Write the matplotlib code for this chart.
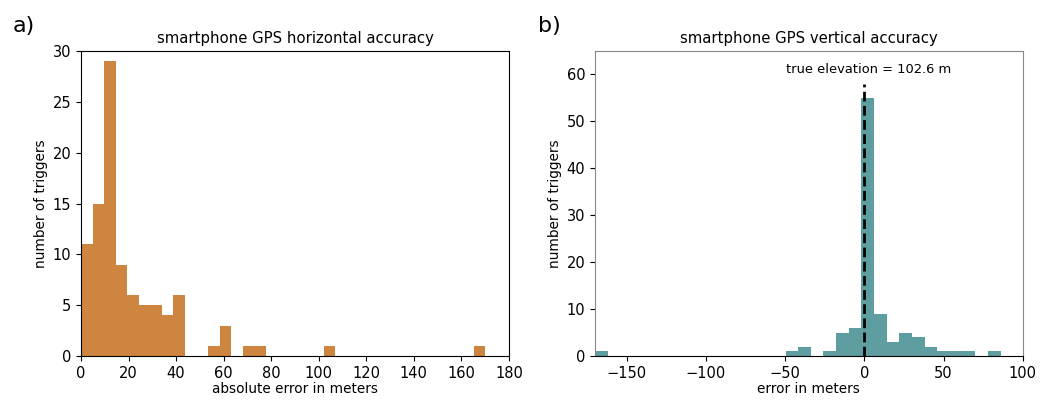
import numpy as np
import matplotlib
matplotlib.use('Agg')
import matplotlib.pyplot as plt

# horizontal error histogram: 35 bins from 0 to 170 m
h_edges_range = (0, 170)
h_counts = [11, 15, 29, 9, 6, 5, 5, 4, 6, 0, 0, 1, 3, 0, 1, 1, 0, 0,
            0, 0, 0, 1, 0, 0, 0, 0, 0, 0, 0, 0, 0, 0, 0, 0, 1]

# vertical error histogram: 32 bins from -169.5 to 86 m
v_edges_range = (-169.5, 86.0)
v_counts = [1, 0, 0, 0, 0, 0, 0, 0, 0, 0, 0, 0, 0, 0, 0, 1, 2, 0, 1, 5,
            6, 55, 9, 3, 5, 4, 2, 1, 1, 1, 0, 1]

true_elev = 102.6

h_edges = np.linspace(*h_edges_range, len(h_counts) + 1)
v_edges = np.linspace(*v_edges_range, len(v_counts) + 1)

fig = plt.figure(figsize=(10.49, 4.03), dpi=100)
ax1 = fig.add_axes([0.0772, 0.1166, 0.408, 0.7568])
ax2 = fig.add_axes([0.5672, 0.1166, 0.4078, 0.7568])

ax1.hist(h_edges[:-1], bins=h_edges, weights=h_counts, color='#CD853F',
         linewidth=0)
ax1.set_xlim(0, 180)
ax1.set_ylim(0, 30)
ax1.set_xticks(np.arange(0, 181, 20))
ax1.set_title('smartphone GPS horizontal accuracy', fontsize=10.7)
ax1.set_xlabel('absolute error in meters', fontsize=9.8, labelpad=1)
ax1.set_ylabel('number of triggers', fontsize=9.8, labelpad=3)

ax2.hist(v_edges[:-1], bins=v_edges, weights=v_counts, color='#5F9EA0',
         linewidth=0)
ax2.plot([0, 0], [0, 58], color='black', linewidth=2, dashes=(3.5, 1.6))
ax2.text(2.5, 61, 'true elevation = %.1f m' % true_elev, ha='center',
         va='center', fontsize=9.4)
ax2.set_xlim(-170, 100)
ax2.set_ylim(0, 65)
ax2.set_title('smartphone GPS vertical accuracy', fontsize=10.7)
ax2.set_xlabel('error in meters', fontsize=9.8, labelpad=1)
ax2.set_ylabel('number of triggers', fontsize=9.8, labelpad=3)
for s in ['left', 'right', 'top']:
    ax2.spines[s].set_color('#888888')

for ax in (ax1, ax2):
    ax.tick_params(labelsize=10.5)

fig.text(0.012, 0.935, 'a)', fontsize=16, va='center')
fig.text(0.513, 0.935, 'b)', fontsize=16, va='center')

fig.savefig('out.png', dpi=100)
